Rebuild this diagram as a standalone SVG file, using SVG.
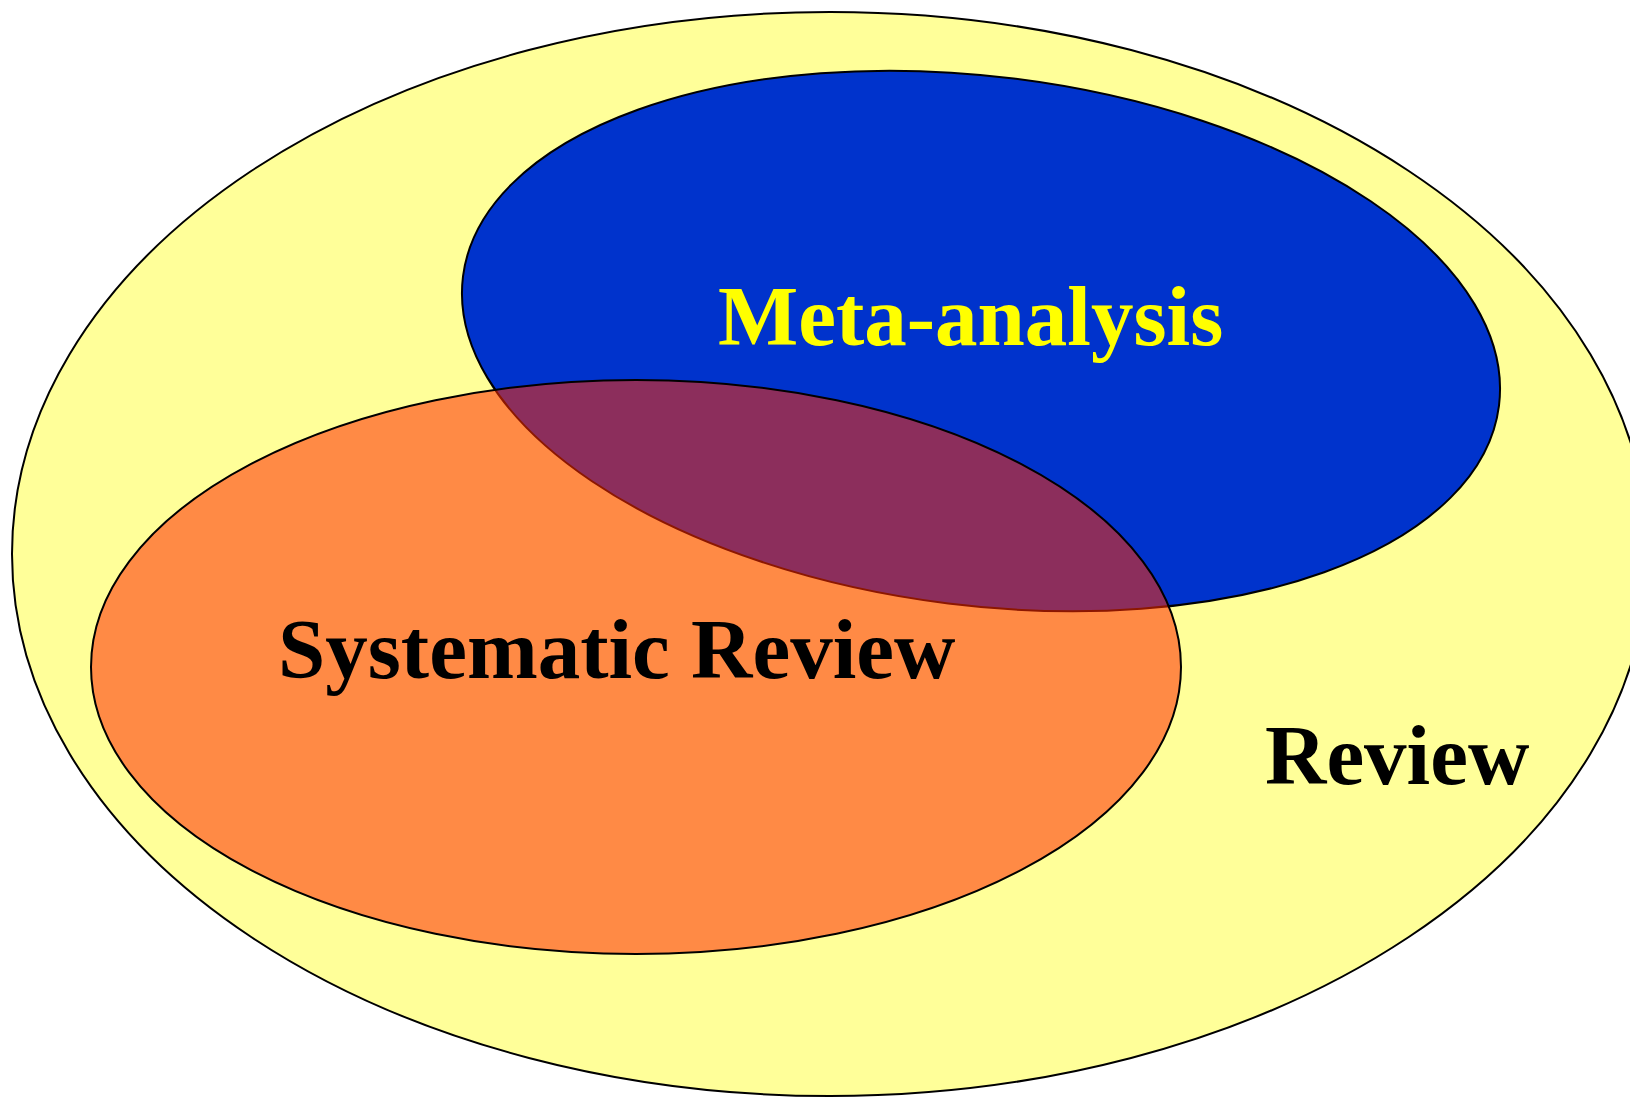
<svg xmlns="http://www.w3.org/2000/svg" width="1630" height="1098" viewBox="0 0 1630 1098">
<style>
.shape{stroke:#000;stroke-width:2}
.lbl{font-family:"Liberation Serif","Times New Roman",serif;font-weight:bold;font-size:85px}
</style>
<rect width="1630" height="1098" fill="#fff"/>
<g id="review">
<ellipse class="shape" cx="830" cy="554" rx="818" ry="542" fill="#FFFF99"/>
<text class="lbl" x="1265" y="784" fill="#000">Review</text>
</g>
<g id="meta-analysis">
<ellipse class="shape" cx="981" cy="341" rx="522" ry="264.5" fill="#0033CC" transform="rotate(7.1 981 341)"/>
</g>
<g id="systematic-review">
<ellipse class="shape" cx="636" cy="667" rx="545" ry="287" fill="#FF2A00" fill-opacity="0.55"/>
<text class="lbl" x="278" y="678" fill="#000">Systematic Review</text>
</g>
<g id="meta-analysis-label">
<text class="lbl" x="718" y="345" fill="#FFFF00">Meta-analysis</text>
</g>
</svg>
